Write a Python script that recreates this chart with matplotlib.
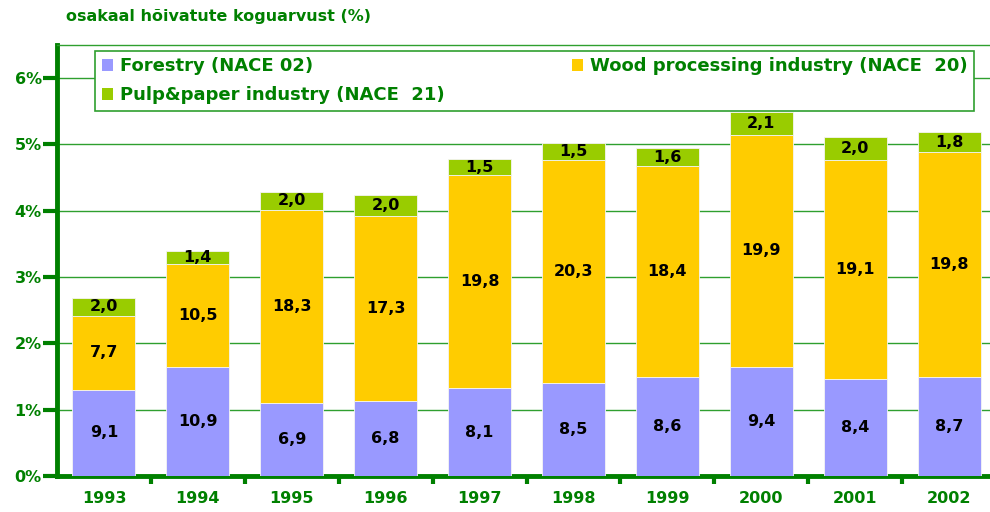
import numpy as np
import matplotlib
matplotlib.use("Agg")
import matplotlib.pyplot as plt
from matplotlib.patches import Patch

# shares of total employment (%)
years = ["1993", "1994", "1995", "1996", "1997", "1998", "1999", "2000", "2001", "2002"]
forestry = [1.30, 1.64, 1.10, 1.125, 1.32, 1.41, 1.50, 1.65, 1.46, 1.50]
wood = [1.12, 1.56, 2.91, 2.80, 3.22, 3.36, 3.17, 3.49, 3.31, 3.38]
pulp = [0.26, 0.19, 0.28, 0.31, 0.24, 0.25, 0.27, 0.35, 0.34, 0.31]

# segment labels (thousand employees)
forestry_lbl = [9.1, 10.9, 6.9, 6.8, 8.1, 8.5, 8.6, 9.4, 8.4, 8.7]
wood_lbl = [7.7, 10.5, 18.3, 17.3, 19.8, 20.3, 18.4, 19.9, 19.1, 19.8]
pulp_lbl = [2.0, 1.4, 2.0, 2.0, 1.5, 1.5, 1.6, 2.1, 2.0, 1.8]

names = ["Forestry (NACE 02)", "Wood processing industry (NACE  20)", "Pulp&paper industry (NACE  21)"]
colors = ["#9999ff", "#ffcc00", "#99cc00"]
green = "#008000"

plt.rcParams['font.family'] = ['DejaVu Sans']

fig = plt.figure(figsize=(9.9, 5.12), dpi=100)
ax = fig.add_axes([57 / 990, 36 / 512, 939 / 990, 431 / 512])

x = np.arange(len(years))
w = 0.67
f = np.array(forestry)
wd = np.array(wood)
p = np.array(pulp)

ax.bar(x, f, w, color=colors[0], edgecolor="#f4f4f4", linewidth=0.6, zorder=3)
ax.bar(x, wd, w, bottom=f, color=colors[1], edgecolor="#f4f4f4", linewidth=0.6, zorder=3)
ax.bar(x, p, w, bottom=f + wd, color=colors[2], edgecolor="#f4f4f4", linewidth=0.6, zorder=3)

def fmt(v):
    return f"{v:.1f}".replace(".", ",")

for i in range(len(years)):
    ax.text(x[i], f[i] / 2, fmt(forestry_lbl[i]), ha="center", va="center",
            fontsize=11.5, fontweight="bold", color="black", zorder=4)
    ax.text(x[i], f[i] + wd[i] / 2, fmt(wood_lbl[i]), ha="center", va="center",
            fontsize=11.5, fontweight="bold", color="black", zorder=4)
    ax.text(x[i], f[i] + wd[i] + p[i] / 2, fmt(pulp_lbl[i]), ha="center", va="center",
            fontsize=11.5, fontweight="bold", color="black", zorder=4)

ax.set_xlim(-0.5, len(years) - 0.5)
ax.set_ylim(0, 6.5)

ax.set_yticks(range(0, 7))
ax.set_yticklabels([f"{v}%" for v in range(0, 7)])
ax.set_xticks(x)
ax.set_xticklabels(years)
ax.set_xticks(x[:-1] + 0.5, minor=True)

ax.tick_params(axis="y", which="major", direction="out", length=10, width=3,
               color=green, labelcolor=green, labelsize=11.5, pad=1)
ax.tick_params(axis="x", which="major", length=0, labelcolor=green, labelsize=11.5, pad=11)
ax.tick_params(axis="x", which="minor", direction="out", length=6, width=3, color=green)
for lab in ax.get_xticklabels() + ax.get_yticklabels():
    lab.set_fontweight("bold")

ax.grid(axis="y", color="#2f9f2f", linewidth=1, zorder=0)
ax.set_axisbelow(True)
for s in ["left", "bottom"]:
    ax.spines[s].set_color(green)
    ax.spines[s].set_linewidth(3.5)
ax.spines["top"].set_color("#2f9f2f")
ax.spines["top"].set_linewidth(1)
ax.spines["right"].set_visible(False)

fig.text(66 / 990, 1 - 17 / 512, "osakaal hõivatute koguarvust (%)", ha="left", va="center",
         fontsize=11.5, fontweight="bold", color=green)

handles = [Patch(facecolor=colors[0], edgecolor="none"),
           Patch(facecolor=colors[2], edgecolor="none"),
           Patch(facecolor=colors[1], edgecolor="none")]
labels = [names[0], names[2], names[1]]
leg = fig.legend(handles, labels, ncol=2, mode="expand",
                 bbox_to_anchor=(95 / 990, 1 - 111 / 512, 879 / 990, 60 / 512),
                 loc="lower left", bbox_transform=fig.transFigure, borderaxespad=0,
                 frameon=True, fancybox=False, framealpha=1,
                 handlelength=0.65, handleheight=0.65,
                 handletextpad=0.35, borderpad=0.37, labelspacing=0.6,
                 prop={"weight": "bold", "size": 13})
leg.get_frame().set_edgecolor("#2f9f2f")
leg.get_frame().set_linewidth(1.2)
for t in leg.get_texts():
    t.set_color(green)
leg.set_zorder(5)

fig.savefig("out.png", dpi=100)
